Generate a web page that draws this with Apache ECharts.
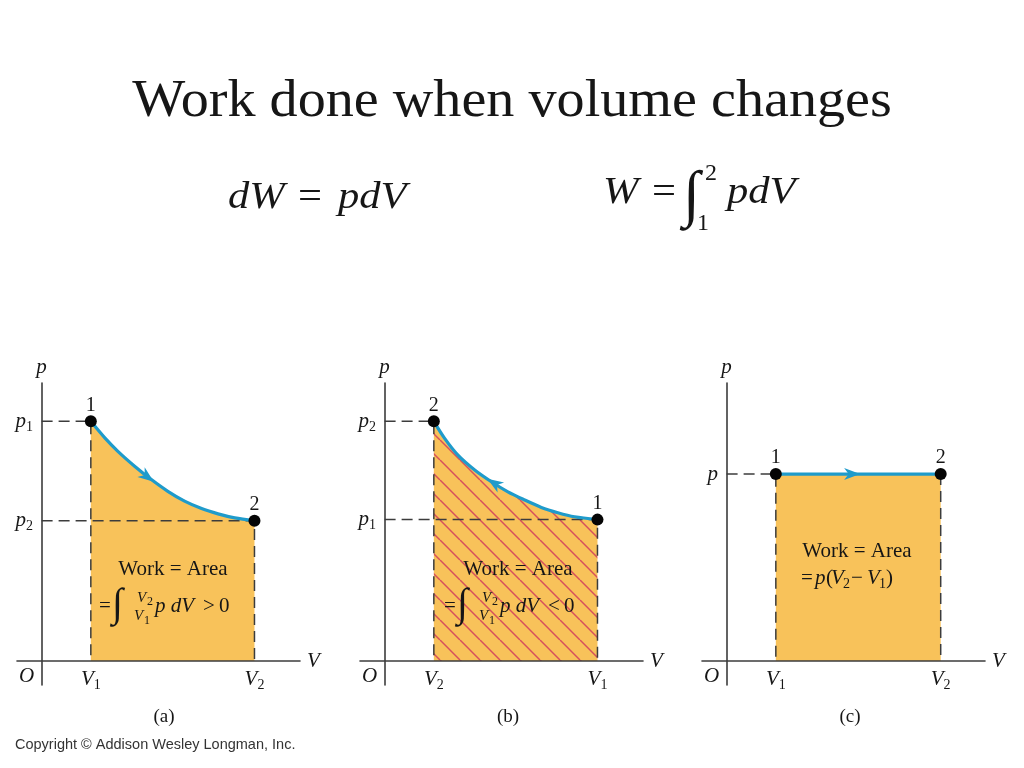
<!DOCTYPE html>
<html><head><meta charset="utf-8">
<script src="https://cdn.jsdelivr.net/npm/echarts@6/dist/echarts.min.js"></script>
<style>html,body{margin:0;padding:0;background:#fff}#c{width:1024px;height:768px}</style>
</head><body><div id="c"></div>
<script>
// ---------------- data ----------------
const titleText = 'Work done when volume changes';
const copyrightText = 'Copyright \u00A9 Addison Wesley Longman, Inc.';
const panelCaptions = ['(a)', '(b)', '(c)'];

// panel (a): expansion 1 -> 2
const V1a = 2.0, V2a = 8.65, p1a = 10.0, p2a = 5.85;
const curveA = [[2.0,10.0],[2.56,9.32],[3.10,8.75],[3.78,8.13],[4.46,7.57],[5.13,7.08],[5.81,6.67],[6.50,6.36],[7.17,6.14],[7.85,5.97],[8.65,5.85]];
const arrowA = [[4.3, 7.68]];
const pointsA = [[V1a, p1a], [V2a, p2a]];
const pointNamesA = ['1', '2'];
const xTicksA = [0, V1a, V2a], xTickTextA = ['O', 'V_1', 'V_2'];
const yTicksA = [p2a, p1a], yTickTextA = ['p_2', 'p_1'];

// panel (b): compression 1 -> 2
const V2b = 2.0, V1b = 8.65, p2b = 10.0, p1b = 5.9;
const curveB = [[2.0,10.0],[2.44,9.29],[2.98,8.59],[3.66,7.97],[4.34,7.48],[5.01,7.06],[5.69,6.72],[6.37,6.41],[7.04,6.19],[7.72,6.02],[8.65,5.9]];
const arrowB = [[4.45, 7.42]];
const pointsB = [[V2b, p2b], [V1b, p1b]];
const pointNamesB = ['2', '1'];
const xTicksB = [0, V2b, V1b], xTickTextB = ['O', 'V_2', 'V_1'];
const yTicksB = [p1b, p2b], yTickTextB = ['p_1', 'p_2'];

// panel (c): constant pressure
const V1c = 2.0, V2c = 8.7, pc = 7.8;
const curveC = [[V1c, pc], [V2c, pc]];
const arrowC = [[5.1, pc]];
const pointsC = [[V1c, pc], [V2c, pc]];
const pointNamesC = ['1', '2'];
const xTicksC = [0, V1c, V2c], xTickTextC = ['O', 'V_1', 'V_2'];
const yTicksC = [pc], yTickTextC = ['p'];

// ---------------- style ----------------
const SERIF = '"Liberation Serif", "Times New Roman", serif';
const SANS = '"Liberation Sans", Arial, sans-serif';
const TXT = '#161616';
const AX = '#3c3c3c';
const FILL = '#f8c25a';
const CURVE = '#1f9bcb';
const HATCH = '#d6505c';

function hatchPattern() {
  const c = document.createElement('canvas');
  c.width = 20; c.height = 20;
  const g = c.getContext('2d');
  g.fillStyle = FILL; g.fillRect(0, 0, 20, 20);
  g.strokeStyle = HATCH; g.lineWidth = 1.5;
  for (const k of [-20, 0, 20]) { g.beginPath(); g.moveTo(k, 0); g.lineTo(k + 20, 20); g.stroke(); }
  return c;
}

const axisRich = {
  i: { fontFamily: SERIF, fontStyle: 'italic', fontSize: 21, color: TXT },
  s: { fontFamily: SERIF, fontSize: 14, color: TXT, padding: [12, 0, 0, 0] },
  o: { fontFamily: SERIF, fontStyle: 'italic', fontSize: 21, color: TXT, padding: [0, 30, 0, 0] }
};
function richLabel(t) {
  if (t === 'O') return '{o|O}';
  const parts = t.split('_');
  return '{i|' + parts[0] + '}' + (parts[1] ? '{s|' + parts[1] + '}' : '');
}
function lookup(ticks, texts) {
  return function (v) {
    for (let k = 0; k < ticks.length; k++) if (Math.abs(ticks[k] - v) < 1e-6) return richLabel(texts[k]);
    return '';
  };
}

const gridLefts = [17, 360, 702];
const panels = [
  { curve: curveA, arrow: arrowA, rot: -37, pts: pointsA, names: pointNamesA, xt: xTicksA, xtt: xTickTextA, yt: yTicksA, ytt: yTickTextA,
    dashes: [[[0, p1a], [V1a, p1a], [V1a, 0]], [[0, p2a], [V2a, p2a], [V2a, 0]]], hatch: false },
  { curve: curveB, arrow: arrowB, rot: 147, pts: pointsB, names: pointNamesB, xt: xTicksB, xtt: xTickTextB, yt: yTicksB, ytt: yTickTextB,
    dashes: [[[0, p2b], [V2b, p2b], [V2b, 0]], [[0, p1b], [V1b, p1b], [V1b, 0]]], hatch: true },
  { curve: curveC, arrow: arrowC, rot: 0, pts: pointsC, names: pointNamesC, xt: xTicksC, xtt: xTickTextC, yt: yTicksC, ytt: yTickTextC,
    dashes: [[[0, pc], [V1c, pc], [V1c, 0]], [[V2c, pc], [V2c, 0]]], hatch: false }
];

const grid = [], xAxis = [], yAxis = [], series = [];
const hatchCanvas = hatchPattern();
panels.forEach((P, i) => {
  grid.push({ left: gridLefts[i], top: 383, width: 283, height: 302, containLabel: false, outerBoundsMode: 'none' });
  xAxis.push({
    gridIndex: i, type: 'value', min: -1, max: 10.5, z: 5,
    name: 'V', nameLocation: 'end', nameGap: 7,
    nameTextStyle: { fontFamily: SERIF, fontStyle: 'italic', fontSize: 21, color: TXT },
    axisLine: { show: true, onZero: true, lineStyle: { color: AX, width: 1.6 } },
    axisTick: { show: false }, splitLine: { show: false },
    axisLabel: { customValues: P.xt, formatter: lookup(P.xt, P.xtt), rich: axisRich, margin: -19 }
  });
  yAxis.push({
    gridIndex: i, type: 'value', min: -1, max: 11.6, z: 5,
    name: 'p', nameLocation: 'end', nameGap: 5,
    nameTextStyle: { fontFamily: SERIF, fontStyle: 'italic', fontSize: 21, color: TXT, align: 'center' },
    axisLine: { show: true, onZero: true, lineStyle: { color: AX, width: 1.6 } },
    axisTick: { show: false }, splitLine: { show: false },
    axisLabel: { customValues: P.yt, formatter: lookup(P.yt, P.ytt), rich: axisRich, margin: -16 }
  });
  // filled work area
  series.push({
    type: 'line', xAxisIndex: i, yAxisIndex: i, data: P.curve, smooth: 0.3, symbol: 'none', z: 1,
    lineStyle: { width: 0, opacity: 0 },
    areaStyle: P.hatch ? { color: { image: hatchCanvas, repeat: 'repeat' }, opacity: 1 } : { color: FILL, opacity: 1 },
    silent: true
  });
  // dashed guide lines
  P.dashes.forEach(seg => series.push({
    type: 'line', xAxisIndex: i, yAxisIndex: i, data: seg, symbol: 'none', z: 3, silent: true,
    lineStyle: { color: AX, width: 1.5, type: [11, 6] }
  }));
  // process path
  series.push({
    type: 'line', xAxisIndex: i, yAxisIndex: i, data: P.curve, smooth: 0.3, symbol: 'none', z: 4, silent: true,
    lineStyle: { color: CURVE, width: 3.2 }
  });
  // arrow head
  series.push({
    type: 'scatter', xAxisIndex: i, yAxisIndex: i, data: P.arrow, z: 5, silent: true,
    symbol: 'path://M0,0L14,5L0,10L4,5Z', symbolSize: [16, 12], symbolRotate: P.rot,
    itemStyle: { color: CURVE, opacity: 1 }
  });
  // state points
  series.push({
    type: 'scatter', xAxisIndex: i, yAxisIndex: i, z: 6, silent: true,
    data: P.pts.map((p, k) => ({ value: p, name: P.names[k] })),
    symbol: 'circle', symbolSize: 12, itemStyle: { color: '#050505', opacity: 1 },
    label: { show: true, position: 'top', distance: 0, formatter: '{b}', fontFamily: SERIF, fontSize: 20, color: TXT }
  });
});

// ---------------- text annotations ----------------
function txt(t, x, base, size, o) {
  o = o || {};
  return {
    type: 'text', x: x, y: base - 0.33 * size, scaleX: o.sx || 1, z: 100,
    style: {
      text: t, fill: o.fill || TXT, fontFamily: o.family || SERIF, fontSize: size,
      fontStyle: o.italic ? 'italic' : 'normal', align: o.align || 'left', verticalAlign: 'middle'
    }
  };
}
const G = [];
G.push(txt(titleText, 512, 120, 52, { align: 'center', sx: 1.08 }));
// dW = pdV
G.push(txt('dW', 228, 211, 38, { italic: 1, sx: 1.12 }));
G.push(txt('=', 298, 211, 38, { sx: 1.12 }));
G.push(txt('pdV', 338, 211, 38, { italic: 1, sx: 1.12 }));
// W = int_1^2 pdV
G.push(txt('W', 603, 206, 38, { italic: 1, sx: 1.12 }));
G.push(txt('=', 652, 206, 38, { sx: 1.12 }));
G.push(txt('\u222B', 683, 218, 62, {}));
G.push(txt('2', 705, 182, 24, {}));
G.push(txt('1', 697, 232, 24, {}));
G.push(txt('pdV', 727, 206, 38, { italic: 1, sx: 1.12 }));

function integralNote(dx, sign) {
  G.push(txt('Work = Area', 173 + dx, 576, 21, { align: 'center' }));
  G.push(txt('=', 99 + dx, 613, 21));
  G.push(txt('\u222B', 112 + dx, 619, 40));
  G.push(txt('V', 137 + dx, 603, 15, { italic: 1 }));
  G.push(txt('2', 147 + dx, 606, 12));
  G.push(txt('V', 134 + dx, 621, 15, { italic: 1 }));
  G.push(txt('1', 144 + dx, 625, 12));
  G.push(txt('p dV', 155 + dx, 613, 21, { italic: 1 }));
  G.push(txt(sign, 203 + dx, 613, 21));
  G.push(txt('0', 219 + dx, 613, 21));
}
integralNote(0, '>');
integralNote(345, '<');
G.push(txt('Work = Area', 857, 558, 21, { align: 'center' }));
G.push(txt('=', 801, 585, 21));
G.push(txt('p', 815, 585, 21, { italic: 1 }));
G.push(txt('(', 826, 585, 21));
G.push(txt('V', 831, 585, 21, { italic: 1 }));
G.push(txt('2', 843, 589, 14));
G.push(txt('\u2212', 851, 585, 21));
G.push(txt('V', 867, 585, 21, { italic: 1 }));
G.push(txt('1', 879, 589, 14));
G.push(txt(')', 886, 585, 21));

const captionX = [164, 508, 850];
panelCaptions.forEach((c, i) => G.push(txt(c, captionX[i], 723, 19, { align: 'center' })));
G.push(txt(copyrightText, 15, 750, 14.5, { family: SANS, fill: '#333' }));

const chart = echarts.init(document.getElementById('c'));
chart.setOption({
  animation: false,
  backgroundColor: '#ffffff',
  grid: grid, xAxis: xAxis, yAxis: yAxis, series: series,
  graphic: G
});
</script></body></html>
